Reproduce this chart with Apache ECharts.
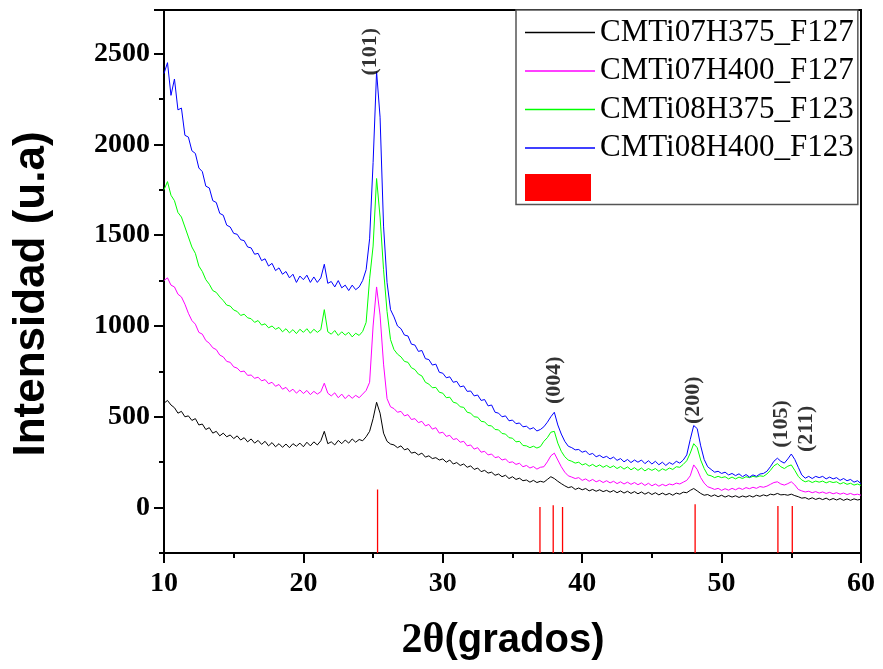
<!DOCTYPE html>
<html><head><meta charset="utf-8">
<script src="https://cdn.jsdelivr.net/npm/echarts@6/dist/echarts.min.js"></script>
<style>html,body{margin:0;padding:0;background:#fff}#c{width:883px;height:669px}</style>
</head><body><div id="c"></div>
<script>
// 2theta sampling positions (degrees)
const theta = [
10,10.25,10.5,10.75,11,11.25,11.5,11.75,12,12.25,12.5,12.75,13,13.25,13.5,13.75,14,14.25,14.5,14.75,
15,15.25,15.5,15.75,16,16.25,16.5,16.75,17,17.25,17.5,17.75,18,18.25,18.5,18.75,19,19.25,19.5,19.75,
20,20.25,20.5,20.75,21,21.25,21.5,21.75,22,22.25,22.5,22.75,23,23.25,23.5,23.75,24,24.25,24.5,24.75,
25,25.25,25.5,25.75,26,26.25,26.5,26.75,27,27.25,27.5,27.75,28,28.25,28.5,28.75,29,29.25,29.5,29.75,
30,30.25,30.5,30.75,31,31.25,31.5,31.75,32,32.25,32.5,32.75,33,33.25,33.5,33.75,34,34.25,34.5,34.75,
35,35.25,35.5,35.75,36,36.25,36.5,36.75,37,37.25,37.5,37.75,38,38.25,38.5,38.75,39,39.25,39.5,39.75,
40,40.25,40.5,40.75,41,41.25,41.5,41.75,42,42.25,42.5,42.75,43,43.25,43.5,43.75,44,44.25,44.5,44.75,
45,45.25,45.5,45.75,46,46.25,46.5,46.75,47,47.25,47.5,47.75,48,48.25,48.5,48.75,49,49.25,49.5,49.75,
50,50.25,50.5,50.75,51,51.25,51.5,51.75,52,52.25,52.5,52.75,53,53.25,53.5,53.75,54,54.25,54.5,54.75,
55,55.25,55.5,55.75,56,56.25,56.5,56.75,57,57.25,57.5,57.75,58,58.25,58.5,58.75,59,59.25,59.5,59.75,
60];

const seriesNames = ['CMTi07H375_F127','CMTi07H400_F127','CMTi08H375_F123','CMTi08H400_F123'];
const seriesColors = ['#000000','#ff00ff','#00ff00','#0000ff'];

const cmti07h375 = [
575,590,565,550, 520,530,500,505, 480,490,455,460, 430,440,410,420, 395,410,390,400,
380,395,372,385, 362,378,355,370, 348,365,340,358, 335,352,332,350, 330,352,338,355,
335,360,340,362, 345,368,420,352, 362,345,370,352, 372,355,378,360, 375,368,390,420,
490,580,520,410, 365,350,345,330, 340,318,325,300, 305,290,300,278, 285,270,275,262,
268,250,262,240, 248,232,240,222, 230,210,218,198, 205,190,195,178, 185,170,178,160,
170,155,162,148, 152,140,150,138, 145,140,155,170, 160,145,132,120, 110,115,100,108,
98,105,92,100, 90,98,88,95, 85,94,82,92, 80,90,78,88, 76,86,74,84,
72,82,70,80, 70,78,68,80, 74,85,82,95, 105,92,78,68, 72,62,70,60,
68,58,66,58, 65,56,64,58, 66,58,68,62, 70,64,74,70, 78,70,72,68,
74,66,60,52, 55,46,54,45, 52,44,52,42, 50,42,50,40, 48,40,48,42,
46];

const cmti07h400 = [
1250,1265,1225,1215, 1175,1160,1120,1070, 1030,1010,965,955, 920,905,880,870, 840,830,805,800,
775,768,748,752, 728,730,712,718, 698,705,682,690, 668,678,652,662, 638,652,630,648,
628,645,622,640, 625,638,685,630, 615,632,605,625, 600,620,602,618, 605,625,645,690,
1000,1215,1060,790, 600,555,545,525, 530,505,512,485, 490,468,475,450, 458,432,440,410,
415,392,398,375, 380,360,365,340, 345,322,330,305, 310,290,295,275, 280,262,268,248,
252,238,244,225, 232,218,226,212, 222,225,252,285, 300,262,225,195, 175,168,160,165,
150,158,145,155, 142,150,138,148, 136,145,132,142, 130,140,128,138, 126,136,122,134,
120,130,118,128, 120,130,125,135, 130,140,150,175, 235,210,165,135, 115,108,100,106,
95,104,96,106, 98,108,100,110, 104,112,106,116, 112,118,128,138, 142,130,124,132,
142,125,100,92, 86,90,82,88, 80,86,78,84, 76,82,74,80, 72,78,70,74,
68];

const cmti08h375 = [
1750,1795,1720,1690, 1625,1600,1545,1490, 1435,1400,1330,1300, 1255,1230,1195,1185, 1160,1140,1115,1110,
1088,1080,1058,1065, 1045,1040,1020,1030, 1005,1012,990,1000, 982,992,968,985, 962,980,958,982,
965,985,960,982, 965,980,1090,968, 955,975,948,968, 950,965,940,960, 948,970,1020,1260,
1440,1812,1600,1310, 1080,925,870,845, 830,805,800,770, 760,735,725,690, 680,660,662,635,
630,605,608,580, 575,555,552,525, 520,500,498,475, 472,452,450,430, 428,408,405,385,
382,362,365,342, 340,330,338,328, 336,365,385,415, 420,355,310,280, 262,255,245,250,
235,242,228,238, 225,235,222,232, 220,230,215,226, 212,224,208,220, 205,218,202,215,
205,215,200,214, 205,218,210,225, 222,238,258,300, 352,330,262,215, 180,175,165,172,
165,170,158,168, 158,168,160,170, 165,172,168,175, 172,185,205,230, 242,225,215,228,
235,205,172,152, 142,148,138,146, 140,146,136,144, 138,142,130,138, 128,134,124,130,
122];

const cmti08h400 = [
2390,2450,2270,2360, 2190,2200,2050,2040, 1965,1950,1870,1850, 1770,1760,1690,1680, 1620,1610,1555,1545,
1510,1505,1475,1470, 1435,1430,1395,1400, 1360,1370,1330,1345, 1305,1320,1285,1300, 1265,1285,1240,1275,
1255,1280,1240,1270, 1240,1265,1340,1235, 1245,1215,1250,1210, 1225,1195,1225,1200, 1215,1250,1310,1480,
1900,2400,2150,1550, 1240,1090,1050,1000, 985,950,945,900, 895,860,865,820, 815,785,790,745,
740,715,720,690, 695,665,670,640, 642,615,620,590, 595,560,565,525, 520,500,505,478,
482,462,466,445, 448,432,440,422, 430,445,470,500, 525,455,405,365, 338,330,318,320,
305,312,292,298, 280,288,275,282, 268,278,260,270, 252,265,248,262, 250,262,242,258,
240,255,236,250, 232,248,238,255, 245,262,290,375, 452,435,340,265, 225,210,195,200,
188,195,180,188, 176,186,170,182, 168,180,172,185, 188,200,225,255, 272,255,245,268,
295,265,222,180, 162,172,160,172, 165,172,158,168, 158,165,150,160, 148,155,140,148,
132];

// Reference pattern (red sticks): positions and top values
const refPos = [25.32, 36.97, 37.92, 38.59, 48.1, 54.04, 55.07];
const refTop = [100, 3, 13, 3, 18, 9, 9];

// Peak annotations
const peakLabels = ['(101)', '(004)', '(200)', '(105)', '(211)'];
const peakX = [24.8, 38.0, 48.0, 54.25, 56.05];
const peakY = [2510, 701, 591, 461, 434];

// Axis tick labels
const xTickLabels = [10, 20, 30, 40, 50, 60];
const yTickLabels = [0, 500, 1000, 1500, 2000, 2500];

const xMin = 10, xMax = 60, yMin = -250, yMax = 2740;

const allSeries = [cmti07h375, cmti07h400, cmti08h375, cmti08h400];

const chart = echarts.init(document.getElementById('c'), null, {renderer: 'canvas'});

const lineSeries = allSeries.map((vals, i) => ({
  name: seriesNames[i],
  type: 'line',
  xAxisIndex: 0, yAxisIndex: 0,
  data: theta.map((t, j) => [t, vals[j]]),
  showSymbol: false, symbol: 'none',
  color: seriesColors[i],
  lineStyle: {width: 1, color: seriesColors[i]},
  sampling: null,
  z: 3 + i
}));

const refData = [];
refPos.forEach((p, i) => { refData.push([p, yMin], [p, refTop[i]], [p, '-']); });

const serif = 'Liberation Serif, Times New Roman, serif';
const sans = 'Liberation Sans, Arial, sans-serif';

chart.setOption({
  animation: false,
  backgroundColor: '#fff',
  grid: [
    {left: 164, top: 10, right: 22, bottom: 116, show: true, borderColor: '#000', borderWidth: 2, containLabel: false},
    {left: 164, top: 10, right: 22, bottom: 669 - 507.3, show: false}
  ],
  xAxis: [
    {type: 'value', gridIndex: 0, position: 'bottom', min: xMin, max: xMax, interval: 5,
     axisLine: {show: true, onZero: false, lineStyle: {color: '#000', width: 2}},
     axisTick: {show: true, inside: false, length: 5, lineStyle: {color: '#000', width: 2}},
     axisLabel: {show: false}, splitLine: {show: false},
     name: '{a|2θ}{b|(grados)}', nameLocation: 'middle', nameGap: 67,
     nameTextStyle: {padding: [0, 19, 0, 0], rich: {
       a: {fontFamily: serif, fontWeight: 'bold', fontSize: 42, color: '#000'},
       b: {fontFamily: sans, fontWeight: 'bold', fontSize: 40, color: '#000'}}}},
    {type: 'value', gridIndex: 0, position: 'bottom', min: xMin, max: xMax, interval: 10,
     axisLine: {show: false, onZero: false},
     axisTick: {show: true, inside: false, length: 10, lineStyle: {color: '#000', width: 2}},
     axisLabel: {show: true, margin: 17, fontFamily: serif, fontWeight: 'bold', fontSize: 28, color: '#000',
       formatter: v => xTickLabels.includes(v) ? String(v) : ''},
     splitLine: {show: false}},
    {type: 'value', gridIndex: 1, min: xMin, max: xMax, show: false}
  ],
  yAxis: [
    {type: 'value', gridIndex: 0, min: yMin, max: yMax, interval: 250,
     axisLine: {show: true, onZero: false, lineStyle: {color: '#000', width: 2}},
     axisTick: {show: true, inside: false, length: 5, lineStyle: {color: '#000', width: 2}},
     axisLabel: {show: false}, splitLine: {show: false},
     name: 'Intensidad (u.a)', nameLocation: 'middle', nameRotate: 90, nameGap: 110,
     nameTextStyle: {fontFamily: sans, fontWeight: 'bold', fontSize: 44, color: '#000', padding: [0, 25, 0, 0]}},
    {type: 'value', gridIndex: 1, min: 0, max: yMax, interval: 500,
     axisLine: {show: false, onZero: false},
     axisTick: {show: true, inside: false, length: 10, lineStyle: {color: '#000', width: 2}},
     axisLabel: {show: true, margin: 14, fontFamily: serif, fontWeight: 'bold', fontSize: 28, color: '#000',
       formatter: v => yTickLabels.includes(v) ? String(v) : ''},
     splitLine: {show: false}}
  ],
  legend: [
    {orient: 'vertical', left: 516, top: 10, padding: [7, 4, 41, 9], itemGap: 7.5,
     itemWidth: 70, itemHeight: 1.5, icon: 'rect',
     borderColor: '#555', borderWidth: 1.5, backgroundColor: '#fff',
     textStyle: {fontFamily: serif, fontSize: 31, color: '#000', lineHeight: 31},
     selectedMode: false, data: seriesNames, z: 10},
    {orient: 'vertical', left: 525, top: 174, padding: 0, itemWidth: 66, itemHeight: 27, icon: 'rect',
     formatter: () => '', textStyle: {fontSize: 1}, selectedMode: false, data: ['ref'], z: 11}
  ],
  series: [
    ...lineSeries,
    {name: 'ref', type: 'line', xAxisIndex: 0, yAxisIndex: 0, data: refData,
     showSymbol: false, symbol: 'none', connectNulls: false, color: '#ff0000',
     lineStyle: {width: 1.3, color: '#ff0000'}, z: 2},
    {name: 'peaks', type: 'scatter', xAxisIndex: 0, yAxisIndex: 0,
     data: peakX.map((x, i) => ({value: [x, peakY[i]], name: peakLabels[i]})),
     symbolSize: 1, itemStyle: {color: 'rgba(0,0,0,0)'},
     label: {show: true, formatter: '{b}', position: 'inside', rotate: 90,
       fontFamily: serif, fontWeight: 'bold', fontSize: 22, color: '#000'}, z: 8}
  ]
});
</script>
</body></html>
